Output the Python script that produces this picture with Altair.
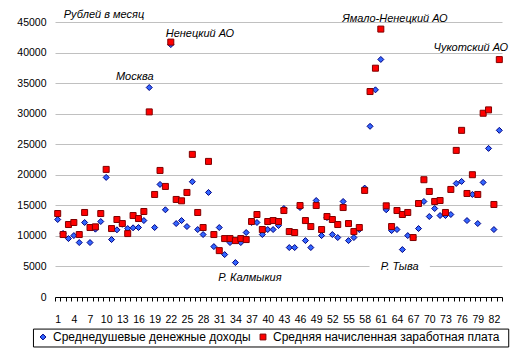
import altair as alt
import pandas as pd

# ---- data ----
regions = list(range(1, 84))
income = [12680, 10400, 9560, 10050, 8910, 12190, 8910, 11100, 12350, 19570,
          9400, 10990, 11900, 11200, 11320, 11370, 12510, 34280, 11370, 18420,
          14270, 41300, 12020, 12510, 11530, 18860, 11040, 10220, 17110, 8250,
          11370, 6940, 8910, 5630, 8910, 10550, 12200, 12190, 10220, 11040,
          11040, 11690, 14480, 8090, 8090, 14640, 9230, 8090, 15790, 10050,
          13000, 10220, 9730, 15630, 9230, 9730, 11040, 17820, 27930, 33900,
          38870, 14270, 10870, 11040, 7760, 10050, 9700, 11200, 15630, 13170,
          14480, 13330, 13330, 13500, 18580, 18910, 12510, 16780, 12020, 18750,
          24320, 11040, 27270]
salary = [13660, 10220, 11860, 12190, 10220, 13830, 11370, 11480, 13660, 20880,
          11200, 12680, 12020, 10380, 13330, 12840, 13990, 30290, 16780, 20710,
          18090, 41710, 15960, 15740, 17110, 23340, 13830, 11370, 22190, 10220,
          7590, 9560, 9560, 9230, 9560, 9400, 12350, 13500, 11040, 12350,
          12510, 12350, 14150, 10710, 10550, 14970, 12510, 11530, 14970, 11040,
          13170, 12680, 11860, 14640, 12020, 10710, 11370, 17440, 33620, 37440,
          43840, 14920, 11530, 14150, 13500, 13830, 9730, 15300, 19190, 17270,
          15630, 15790, 13830, 17600, 23990, 27270, 16940, 20010, 16780, 30070,
          30620, 15140, 38850]
series_names = ["Среднедушевые денежные доходы", "Средняя начисленная заработная плата"]

x_label_values = list(range(1, 83, 3))
x_tick_values = [i + 0.5 for i in range(0, 84)]
y_tick_values = list(range(0, 45001, 5000))

ann_text = ["Рублей в месяц", "Москва", "Ненецкий АО", "Ямало-Ненецкий АО",
            "Чукотский АО", "Р. Калмыкия", "Р. Тыва"]
ann_x = [9.6, 15.3, 27.4, 63.6, 77.7, 36.7, 64.5]
ann_y = [46220, 35940, 43100, 45560, 40810, 3110, 4920]

# white patch behind "Р. Тыва" (covers the grid line there)
patch_x, patch_x2, patch_y, patch_y2 = [58.9], [70.1], [4100], [5900]

# legend frame edges, in the chart's own units (below the axis)
edge_x = [-3.5, -3.5, -3.5, 84.75]
edge_x2 = [84.75, 84.75, -3.5, 84.75]
edge_y = [-5250, -8180, -5250, -5250]
edge_y2 = [-5250, -8180, -8180, -8180]

# ---- tables ----
df = pd.DataFrame({
    "region": regions + regions,
    "value": income + salary,
    "series": [series_names[0]] * len(regions) + [series_names[1]] * len(regions),
})
df["order"] = range(len(df))
ann = pd.DataFrame({"text": ann_text, "ax": ann_x, "ay": ann_y})
patch = pd.DataFrame({"px": patch_x, "px2": patch_x2, "py": patch_y, "py2": patch_y2})
edges = pd.DataFrame({"ex": edge_x, "ex2": edge_x2, "ey": edge_y, "ey2": edge_y2})

FONT = "Liberation Sans"
xscale = alt.Scale(domain=[0.5, 83.5], nice=False, zero=False)
yscale = alt.Scale(domain=[0, 45000], nice=False, zero=True)

y_axis = alt.Axis(values=y_tick_values, grid=True, gridColor="#c0c0c0", gridWidth=1,
                  domain=False, ticks=False, title=None, labelFont=FONT,
                  labelFontSize=10.5, labelColor="black", labelPadding=9, format="d")

legend = alt.Legend(title=None, orient="none", legendX=-22, legendY=305,
                    direction="horizontal",
                    padding=4, labelFont=FONT, labelFontSize=12, labelColor="black",
                    symbolSize=34, columnPadding=6, labelLimit=400, labelOffset=4,
                    symbolStrokeWidth=1)

points = alt.Chart(df).mark_point(filled=True, opacity=1, strokeWidth=1, size=36).encode(
    x=alt.X("region:Q", scale=xscale,
            axis=alt.Axis(values=x_label_values, ticks=False, domain=False, grid=False,
                          title=None, orient="bottom", labelFont=FONT, labelFontSize=10.5,
                          labelColor="black", labelPadding=17, labelFlush=False,
                          labelOverlap=False)),
    y=alt.Y("value:Q", scale=yscale, axis=y_axis),
    shape=alt.Shape("series:N", scale=alt.Scale(domain=series_names, range=["diamond", "square"]),
                    legend=legend),
    fill=alt.Fill("series:N", scale=alt.Scale(domain=series_names, range=["#3366FF", "#FF0000"]),
                  legend=legend),
    stroke=alt.Stroke("series:N", scale=alt.Scale(domain=series_names, range=["#000080", "#800000"]),
                      legend=legend),
    order=alt.Order("order:Q"),
)

patch_layer = alt.Chart(patch).mark_rect(fill="white").encode(
    x=alt.X("px:Q", scale=xscale,
            axis=alt.Axis(values=x_tick_values, labels=False, ticks=True, tickSize=4,
                          tickColor="black", domain=True, domainColor="black", grid=False,
                          title=None, orient="bottom")),
    x2="px2:Q",
    y=alt.Y("py:Q", scale=yscale, axis=y_axis),
    y2="py2:Q",
)

texts = alt.Chart(ann).mark_text(font=FONT, fontSize=11, fontStyle="italic",
                                 color="black", align="center", baseline="middle").encode(
    x=alt.X("ax:Q", scale=xscale, axis=None),
    y=alt.Y("ay:Q", scale=yscale, axis=y_axis),
    text="text:N",
)

frame_layer = alt.Chart(edges).mark_rule(color="black", strokeWidth=1, opacity=1).encode(
    x=alt.X("ex:Q", scale=xscale, axis=None),
    x2="ex2:Q",
    y=alt.Y("ey:Q", scale=yscale, axis=y_axis),
    y2="ey2:Q",
)

chart = alt.layer(patch_layer, points, texts, frame_layer).resolve_axis(x="independent").properties(
    width=447, height=275,
    autosize=alt.AutoSizeParams(type="none"),
    padding={"left": 55, "top": 22, "right": 16, "bottom": 61},
    background="white",
).configure_view(stroke=None)

chart.save("out.html", embed_options={"renderer": "svg", "actions": False})
